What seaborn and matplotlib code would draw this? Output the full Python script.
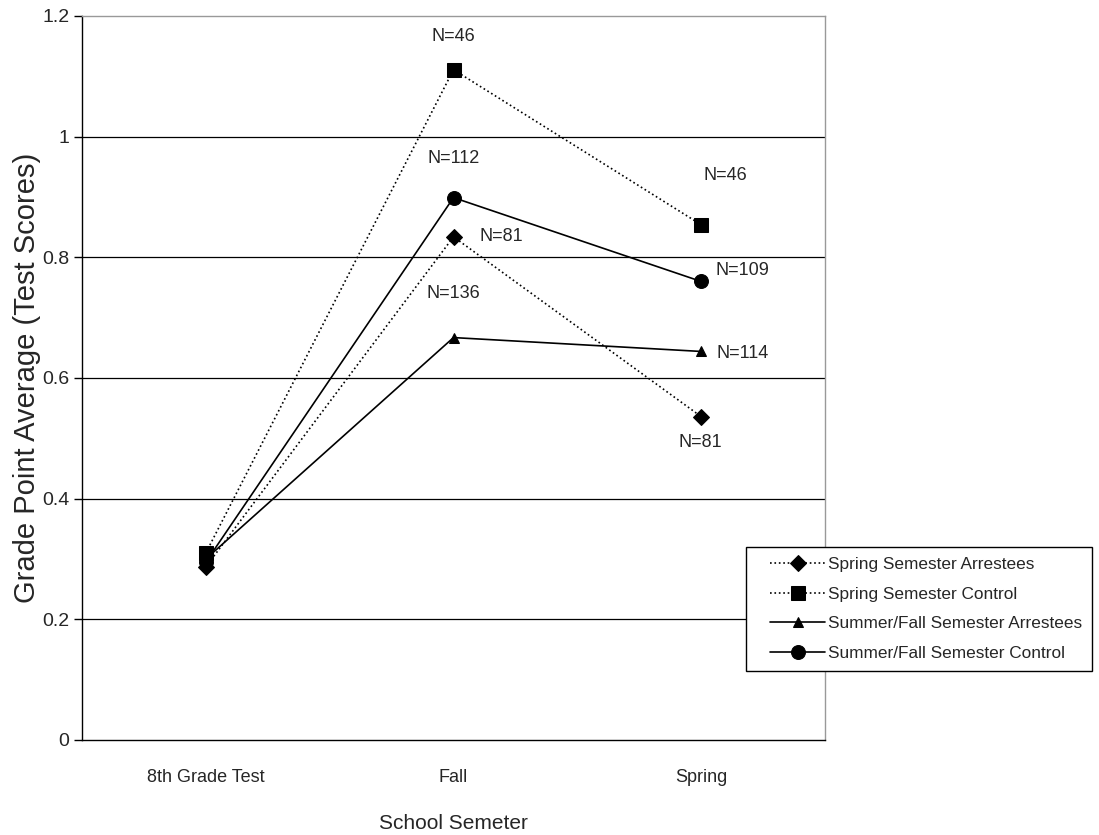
import pandas as pd
import numpy as np
import matplotlib
matplotlib.use('Agg')
import matplotlib.pyplot as plt
import seaborn as sns
from matplotlib.ticker import FixedLocator
from matplotlib.legend_handler import HandlerLine2D

# Datos
semestres = ['8th Grade Test', 'Fall', 'Spring']
spring_arrestees = [0.287, 0.834, 0.536]
spring_control = [0.31, 1.111, 0.854]
summer_arrestees = [0.30, 0.667, 0.644]
summer_control = [0.295, 0.899, 0.76]

series = ['Spring Semester Arrestees', 'Spring Semester Control',
          'Summer/Fall Semester Arrestees', 'Summer/Fall Semester Control']
valores = [spring_arrestees, spring_control, summer_arrestees, summer_control]

# Etiquetas N= (serie, semestre, texto)
etiquetas_n = [
    ('Spring Semester Control', 'Fall', 'N=46'),
    ('Summer/Fall Semester Control', 'Fall', 'N=112'),
    ('Spring Semester Arrestees', 'Fall', 'N=81'),
    ('Summer/Fall Semester Arrestees', 'Fall', 'N=136'),
    ('Spring Semester Control', 'Spring', 'N=46'),
    ('Summer/Fall Semester Control', 'Spring', 'N=109'),
    ('Summer/Fall Semester Arrestees', 'Spring', 'N=114'),
    ('Spring Semester Arrestees', 'Spring', 'N=81'),
]

sns.set_style('white')
plt.rcParams['font.family'] = ['Liberation Sans', 'DejaVu Sans']

filas = []
for nombre, vals in zip(series, valores):
    for s, v in zip(semestres, vals):
        filas.append({'serie': nombre, 'semestre': s, 'gpa': v})
df = pd.DataFrame(filas)

fig = plt.figure(figsize=(10.99, 8.35), dpi=100)
ax = fig.add_axes([82 / 1099, 1 - 740 / 835, 743 / 1099, 724 / 835])

estilos = {
    'Spring Semester Arrestees': dict(ls=':', marker='D', ms=8),
    'Spring Semester Control': dict(ls=':', marker='s', ms=10),
    'Summer/Fall Semester Arrestees': dict(ls='-', marker='^', ms=7),
    'Summer/Fall Semester Control': dict(ls='-', marker='o', ms=10),
}
orden = ['Summer/Fall Semester Arrestees', 'Summer/Fall Semester Control',
         'Spring Semester Arrestees', 'Spring Semester Control']
for nombre in orden:
    e = estilos[nombre]
    sub = df[df['serie'] == nombre]
    sns.lineplot(data=sub, x='semestre', y='gpa', ax=ax, sort=False,
                 color='black', linestyle=e['ls'], linewidth=1.2,
                 marker=e['marker'], markersize=e['ms'],
                 markeredgecolor='black', markerfacecolor='black',
                 label=nombre, zorder=3)

# Etiquetas N= (desplazamiento en pixeles)
offsets = {
    ('Spring Semester Control', 'Fall'): (0, 33),
    ('Summer/Fall Semester Control', 'Fall'): (0, 39),
    ('Spring Semester Arrestees', 'Fall'): (48, 0),
    ('Summer/Fall Semester Arrestees', 'Fall'): (0, 44),
    ('Spring Semester Control', 'Spring'): (24, 49),
    ('Summer/Fall Semester Control', 'Spring'): (41, 11),
    ('Summer/Fall Semester Arrestees', 'Spring'): (41, -2),
    ('Spring Semester Arrestees', 'Spring'): (-1, -26),
}
for nombre, sem, txt in etiquetas_n:
    xi = semestres.index(sem)
    yi = valores[series.index(nombre)][xi]
    dx, dy = offsets[(nombre, sem)]
    ax.annotate(txt, (xi, yi), xytext=(dx * 0.72, dy * 0.72),
                textcoords='offset points', ha='center', va='center',
                fontsize=13)

ax.set_xlim(-0.5, 2.5)
ax.set_ylim(0, 1.2)
ax.set_yticks([0, 0.2, 0.4, 0.6, 0.8, 1.0, 1.2])
ax.set_yticklabels(['0', '0.2', '0.4', '0.6', '0.8', '1', '1.2'], fontsize=14)
ax.set_xticks([0, 1, 2])
ax.set_xticklabels(semestres, fontsize=13)
ax.xaxis.set_minor_locator(FixedLocator([-0.5, 0.5, 1.5, 2.5]))
ax.tick_params(axis='x', which='major', length=0, pad=21)
ax.tick_params(axis='x', which='minor', length=6, width=1, color='black', direction='out')
ax.tick_params(axis='y', length=6, width=1, color='black', direction='out', left=True, pad=3)

for y in [0.2, 0.4, 0.6, 0.8, 1.0]:
    ax.axhline(y, color='black', linewidth=0.9, zorder=1)

ax.spines['left'].set_color('black')
ax.spines['bottom'].set_color('black')
ax.spines['top'].set_color('#999999')
ax.spines['right'].set_color('#999999')
for sp in ax.spines.values():
    sp.set_linewidth(1)

ax.set_xlabel('School Semeter', fontsize=15, labelpad=20)
ax.set_ylabel('Grade Point Average (Test Scores)', fontsize=21, labelpad=1)

handles, labels = ax.get_legend_handles_labels()
mapa = dict(zip(labels, handles))
leg = ax.legend([mapa[s] for s in series], series,
                loc='upper left', bbox_to_anchor=(746 / 1099, 1 - 547 / 835),
                bbox_transform=fig.transFigure, fancybox=False, framealpha=1,
                edgecolor='black', fontsize=12.4, handlelength=4.0,
                labelspacing=0.84, borderpad=0.6, handletextpad=0.15,
                borderaxespad=0,
                handler_map={h: HandlerLine2D(xpad=0.8) for h in handles})
leg.get_frame().set_linewidth(1)

fig.savefig('out.png', dpi=100)
